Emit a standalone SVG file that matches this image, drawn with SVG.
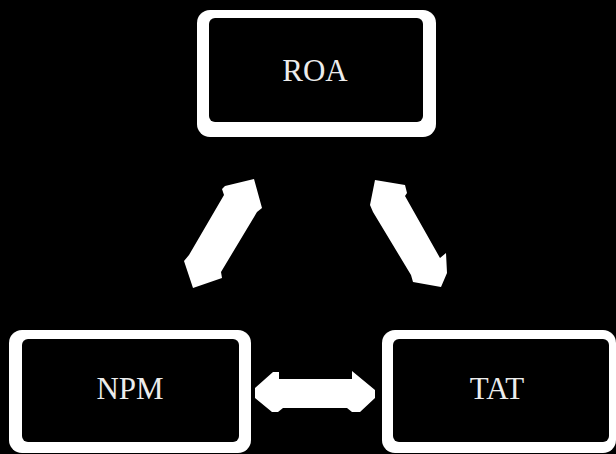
<svg xmlns="http://www.w3.org/2000/svg" width="616" height="454" viewBox="0 0 616 454">
<style>
.outer{fill:#ffffff}
.inner{fill:#000000}
.lbl{font-family:"Liberation Serif","Times New Roman",serif;font-size:31px;fill:#ececec;text-anchor:middle}
.arr{fill:#ffffff}
</style>
<rect x="0" y="0" width="616" height="454" fill="#000000"/>
<g id="ROA">
<rect class="outer" x="197" y="10" width="239" height="127" rx="13"/>
<rect class="inner" x="209" y="18" width="214" height="104" rx="6"/>
<text class="lbl" x="315" y="81">ROA</text>
</g>
<g id="NPM">
<rect class="outer" x="9" y="330" width="242" height="123" rx="13"/>
<rect class="inner" x="22" y="339" width="217" height="103" rx="6"/>
<text class="lbl" x="130" y="399">NPM</text>
</g>
<g id="TAT">
<rect class="outer" x="382" y="330" width="234" height="123" rx="13"/>
<rect class="inner" x="393" y="339" width="216" height="103" rx="6"/>
<text class="lbl" x="497" y="399">TAT</text>
</g>
<g id="connectors">
<polygon class="arr" points="225,186 254,179 262,208 257,212 221,272 222,278 193,288 184,261 189,255 224,195 222,189"/>
<polygon class="arr" points="375,180 405,185 407,193 405,196 440,258 446,253 447,273 441,287 413,282 411,275 373,212 370,205"/>
<polygon class="arr" points="255,388 273,372 279,372 279,379 352,379 352,371 375,390 375,398 360,412 352,412 347,408 283,408 278,412 272,412 255,398"/>
</g>
</svg>
